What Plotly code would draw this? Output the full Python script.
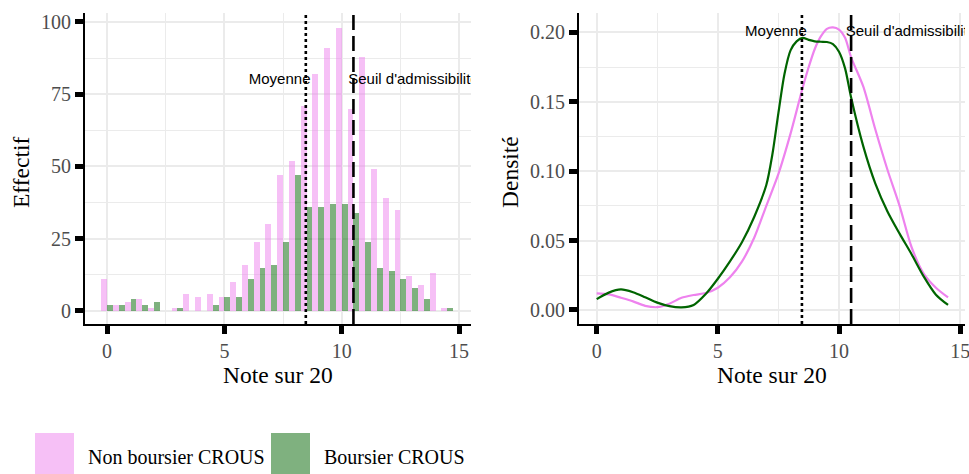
import plotly.graph_objects as go

# ---- data ----
bin_centers = [i * 0.5 for i in range(30)]  # 0 .. 14.5
non_boursier_counts = [11, 2, 3, 4, 1, 0, 1, 6, 5, 6, 5, 10, 16, 24, 30, 47, 52, 71, 82, 91,
                       98, 70, 88, 49, 39, 35, 12, 9, 13, 1]
boursier_counts = [2, 2, 4, 2, 3, 0, 1, 0, 0, 2, 5, 5, 11, 15, 16, 24, 47, 36, 36, 37,
                   37, 34, 24, 15, 14, 11, 8, 4, 0, 1]

dens_x_non = [0, 0.5, 1, 1.5, 2, 2.5, 3, 3.5, 4, 4.5, 5, 5.5, 6, 6.5, 7, 7.5, 8, 8.5, 8.75, 9,
              9.25, 9.5, 9.75, 10, 10.25, 10.5, 11, 11.5, 12, 12.5, 13, 13.5, 14, 14.5]
dens_y_non = [0.012, 0.0112, 0.0088, 0.0062, 0.0030, 0.0020, 0.0045, 0.0088, 0.0108, 0.0122,
              0.0160, 0.0235, 0.035, 0.052, 0.075, 0.098, 0.127, 0.160, 0.175, 0.188,
              0.197, 0.2025, 0.2035, 0.2020, 0.196, 0.182, 0.161, 0.130, 0.101, 0.075,
              0.045, 0.026, 0.0160, 0.0090]

dens_x_bou = [0, 0.5, 1, 1.5, 2, 2.5, 3, 3.5, 4, 4.5, 5, 5.5, 6, 6.5, 7, 7.25, 7.5, 7.75, 8,
              8.25, 8.5, 8.75, 9, 9.25, 9.5, 9.75, 10, 10.25, 10.5, 11, 11.5, 12, 12.5, 13,
              13.5, 14, 14.5]
dens_y_bou = [0.0078, 0.0125, 0.0148, 0.0128, 0.0092, 0.0053, 0.0028, 0.0019, 0.0036, 0.0115,
              0.0225, 0.035, 0.049, 0.067, 0.090, 0.112, 0.142, 0.170, 0.187,
              0.1935, 0.1960, 0.1945, 0.1935, 0.1932, 0.1930, 0.1915, 0.186, 0.174, 0.153,
              0.118, 0.091, 0.071, 0.055, 0.040, 0.024, 0.011, 0.0036]

moyenne = 8.47
seuil = 10.5
series_names = ["Non boursier CROUS", "Boursier CROUS"]
x_ticks = [0, 5, 10, 15]
y_ticks_left = [0, 25, 50, 75, 100]
y_ticks_right = [0, 0.05, 0.10, 0.15, 0.20]

# ---- styles ----
PINK_FILL = "rgba(238,130,238,0.5)"
GREEN_FILL = "rgba(0,100,0,0.5)"
PINK_LINE = "violet"
GREEN_LINE = "darkgreen"
SERIF = "Liberation Serif"
SANS = "Liberation Sans"
W, H = 969, 474

fig = go.Figure()

fig.add_trace(go.Bar(x=bin_centers, y=non_boursier_counts, name=series_names[0],
                     marker=dict(color=PINK_FILL, line=dict(width=0)),
                     xaxis="x", yaxis="y", showlegend=False))
fig.add_trace(go.Bar(x=bin_centers, y=boursier_counts, name=series_names[1],
                     marker=dict(color=GREEN_FILL, line=dict(width=0)),
                     xaxis="x", yaxis="y", showlegend=False))

fig.add_trace(go.Scatter(x=dens_x_non, y=dens_y_non, mode="lines", name=series_names[0],
                         line=dict(color=PINK_LINE, width=2.2, shape="spline", smoothing=0.8),
                         xaxis="x2", yaxis="y2", showlegend=False))
fig.add_trace(go.Scatter(x=dens_x_bou, y=dens_y_bou, mode="lines", name=series_names[1],
                         line=dict(color=GREEN_LINE, width=2.2, shape="spline", smoothing=0.8),
                         xaxis="x2", yaxis="y2", showlegend=False))

# text labels (clipped to panel)
for xa, ya, yv in (("x", "y", 80), ("x2", "y2", 0.2)):
    fig.add_trace(go.Scatter(x=[moyenne + 0.2], y=[yv], mode="text", text=["Moyenne"],
                             textposition="middle left",
                             textfont=dict(family=SANS, size=15, color="black"),
                             xaxis=xa, yaxis=ya, showlegend=False, cliponaxis=True,
                             hoverinfo="skip"))
    fig.add_trace(go.Scatter(x=[seuil - 0.22], y=[yv], mode="text",
                             text=["Seuil d'admissibilité"],
                             textposition="middle right",
                             textfont=dict(family=SANS, size=15, color="black"),
                             xaxis=xa, yaxis=ya, showlegend=False, cliponaxis=True,
                             hoverinfo="skip"))

shapes = []
for xr, yr in (("x", "y domain"), ("x2", "y2 domain")):
    shapes.append(dict(type="line", xref=xr, yref=yr, x0=moyenne, x1=moyenne, y0=0, y1=1,
                       line=dict(color="black", width=2.6, dash="dot")))
    shapes.append(dict(type="line", xref=xr, yref=yr, x0=seuil, x1=seuil, y0=0, y1=1,
                       line=dict(color="black", width=2.6, dash="15px,6px")))

# manual legend keys
shapes.append(dict(type="rect", xref="paper", yref="paper", x0=35 / W, x1=74 / W,
                   y0=-0.01, y1=1 - 433 / H, fillcolor="#F6C0F6", line=dict(width=0)))
shapes.append(dict(type="rect", xref="paper", yref="paper", x0=271 / W, x1=310 / W,
                   y0=-0.01, y1=1 - 433 / H, fillcolor="#7FB17F", line=dict(width=0)))

annotations = [
    dict(text=series_names[0], x=86 / W, y=1 - 457 / H, xref="paper", yref="paper",
         xanchor="left", yanchor="middle", showarrow=False,
         font=dict(family=SERIF, size=20, color="black")),
    dict(text=series_names[1], x=322 / W, y=1 - 457 / H, xref="paper", yref="paper",
         xanchor="left", yanchor="middle", showarrow=False,
         font=dict(family=SERIF, size=20, color="black")),
    dict(text="Note sur 20", x=278 / W, y=1 - 375 / H, xref="paper", yref="paper",
         xanchor="center", yanchor="middle", showarrow=False,
         font=dict(family=SERIF, size=23.5, color="black")),
    dict(text="Note sur 20", x=772 / W, y=1 - 375 / H, xref="paper", yref="paper",
         xanchor="center", yanchor="middle", showarrow=False,
         font=dict(family=SERIF, size=23.5, color="black")),
    dict(text="Effectif", x=21 / W, y=1 - 172 / H, xref="paper", yref="paper",
         xanchor="center", yanchor="middle", showarrow=False, textangle=-90,
         font=dict(family=SERIF, size=23.5, color="black")),
    dict(text="Densité", x=510 / W, y=1 - 172 / H, xref="paper", yref="paper",
         xanchor="center", yanchor="middle", showarrow=False, textangle=-90,
         font=dict(family=SERIF, size=23.5, color="black")),
]

common = dict(showline=True, linecolor="black", linewidth=2, ticks="outside", ticklen=8,
              tickwidth=4.5, tickcolor="black", showgrid=True, gridcolor="#EBEBEB",
              gridwidth=1.6, zeroline=False, automargin=False, ticklabeloverflow="allow",
              tickfont=dict(family=SERIF, size=20, color="#4D4D4D"))

y_dom = [1 - 324 / H, 1 - 13 / H]
fig.update_layout(
    width=W, height=H, autosize=False,
    margin=dict(l=0, r=0, t=0, b=0, pad=0),
    paper_bgcolor="white", plot_bgcolor="white",
    barmode="group", bargap=0, bargroupgap=0,
    shapes=shapes, annotations=annotations,
    xaxis=dict(domain=[85 / W, 471 / W], range=[-0.94, 15.51], tickvals=x_ticks,
               minor=dict(dtick=2.5, showgrid=True, gridcolor="#EBEBEB", gridwidth=0.8),
               anchor="y", **common),
    yaxis=dict(domain=y_dom, range=[-4.5, 103.1], tickvals=y_ticks_left,
               minor=dict(dtick=12.5, showgrid=True, gridcolor="#EBEBEB", gridwidth=0.8),
               anchor="x", **common),
    xaxis2=dict(domain=[579 / W, 965 / W], range=[-0.73, 15.2], tickvals=x_ticks,
                minor=dict(dtick=2.5, showgrid=True, gridcolor="#EBEBEB", gridwidth=0.8),
                anchor="y2", **common),
    yaxis2=dict(domain=y_dom, range=[-0.0101, 0.2139], tickvals=y_ticks_right,
                tickformat=".2f",
                minor=dict(dtick=0.025, showgrid=True, gridcolor="#EBEBEB", gridwidth=0.8),
                anchor="x2", **common),
)

fig.write_html("out.html", config={"displayModeBar": False},
               post_script="document.body.style.margin='0';"
                           "document.body.style.overflow='hidden';")
